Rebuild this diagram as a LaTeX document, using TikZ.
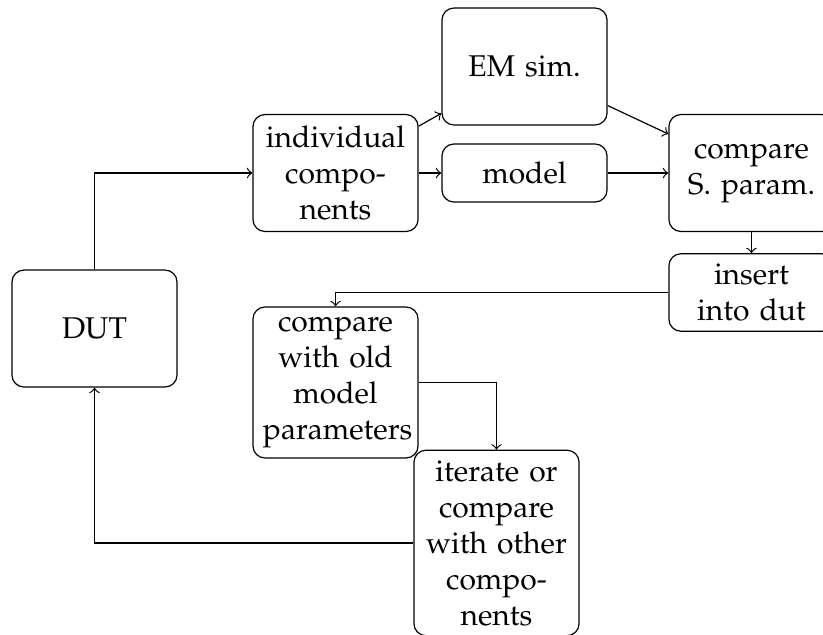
\documentclass[tikz,border=0pt]{standalone}
\usepackage[T1]{fontenc}
\usepackage{mathpazo}
\usetikzlibrary{arrows}
\hyphenation{parameters}

\begin{document}
\begin{tikzpicture}[
        %Option for the boxes%
        stage/.style={draw, rounded corners, align=center,
            text width=1.7cm, inner sep=0.3333em},%
        tallstage/.style={stage, minimum height=1.37cm},%
        flatstage/.style={stage, minimum height=0.68cm}%
    ]
    \useasboundingbox (0,0) rectangle (9.642,-7.439);
    %% the boxes
    \node[tallstage] (dut)    at (1.107,-3.849) {DUT};
    \node[tallstage] (indiv)  at (3.931,-2.027) {individual components};
    \node[tallstage] (emsim)  at (6.145,-0.779) {EM sim.};
    \node[flatstage] (model)  at (6.145,-2.027) {model};
    \node[tallstage] (cmps)   at (8.804,-2.027) {compare S.~param.};
    \node[stage]     (insert) at (8.804,-3.427) {insert into dut};
    \node[stage]     (cmpold) at (3.931,-4.481) {compare with old model parameters};
    \node[stage]     (iter)   at (5.817,-6.361) {iterate or compare with other components};
    %% the connectors
    \draw[->] (dut)    |- (indiv);
    \draw[->] (indiv)  -- (emsim);
    \draw[->] (indiv)  -- (model);
    \draw[->] (emsim)  -- (cmps);
    \draw[->] (model)  -- (cmps);
    \draw[->] (cmps)   -- (insert);
    \draw[->] (insert) -| (cmpold);
    \draw[->] (cmpold) -| (iter);
    \draw[->] (iter)   -| (dut);
\end{tikzpicture}
\end{document}
